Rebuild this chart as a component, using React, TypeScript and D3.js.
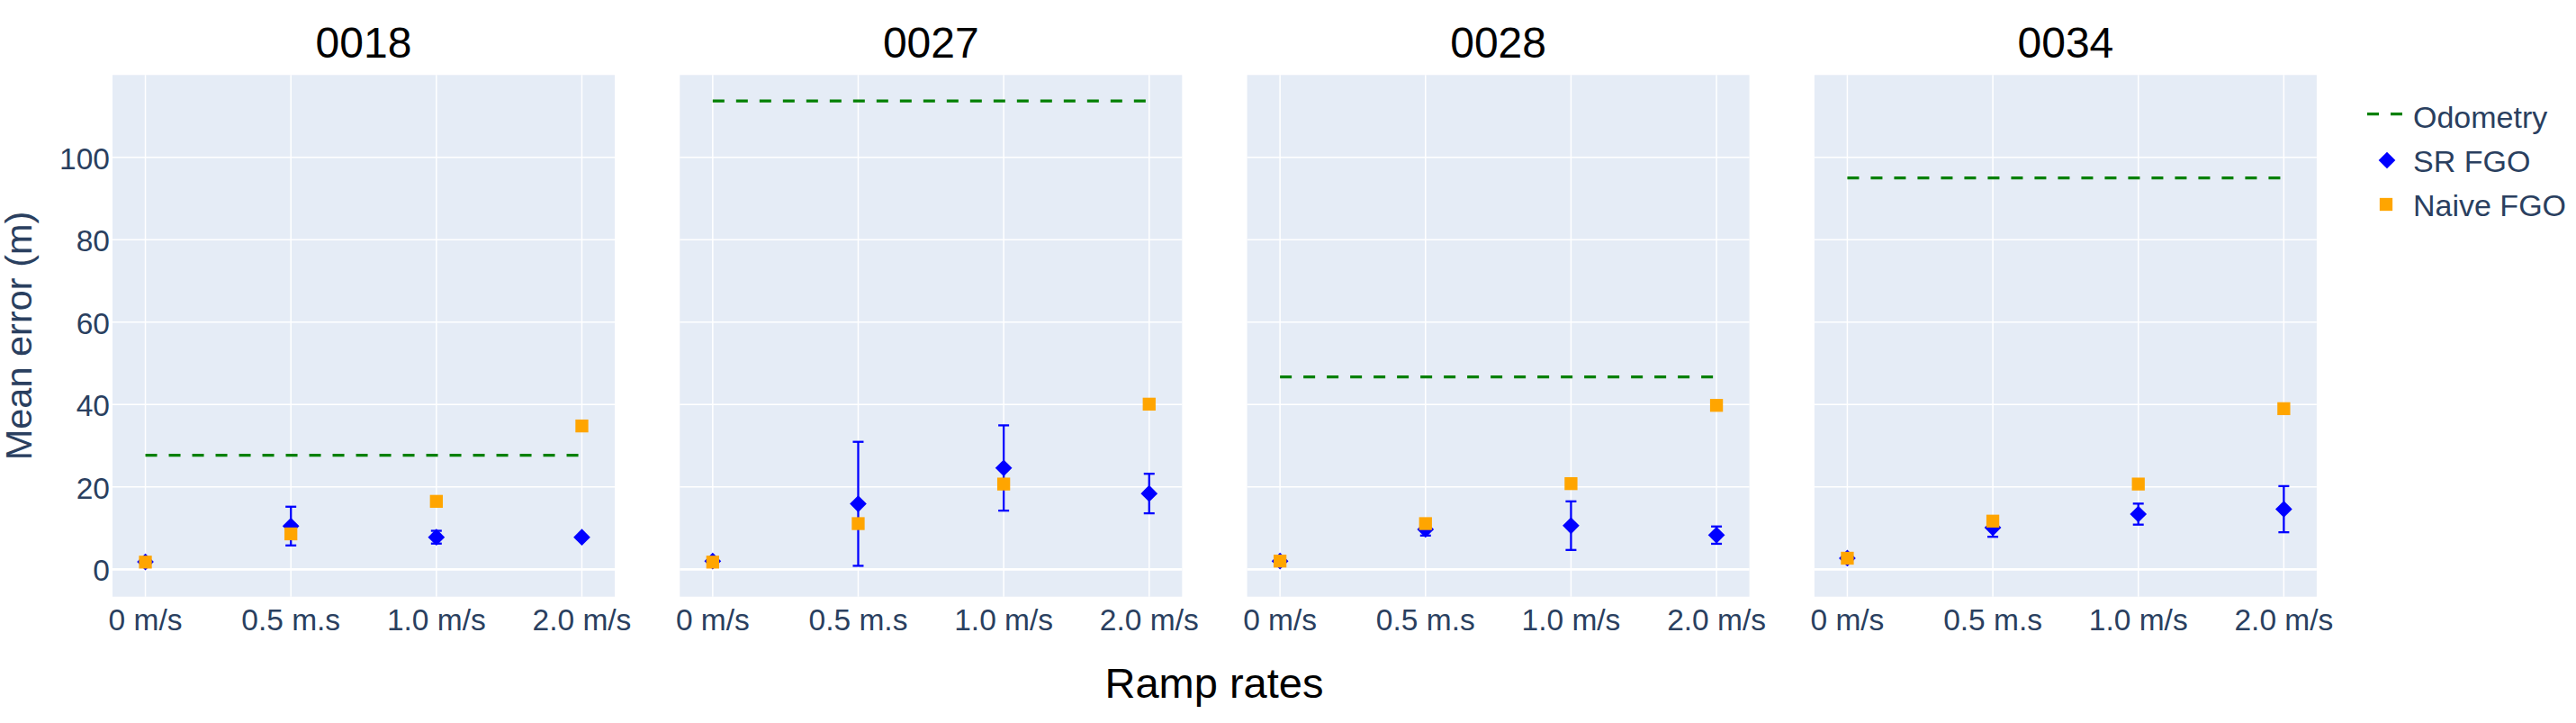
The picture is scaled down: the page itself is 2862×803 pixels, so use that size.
import { useEffect, useRef } from 'react'
import * as d3 from 'd3'

// ramp rate categories on the x axis
const categories = ['0 m/s', '0.5 m.s', '1.0 m/s', '2.0 m/s']
// one subplot per sequence
const sequences = ['0018', '0027', '0028', '0034']
const yTicks = [0, 20, 40, 60, 80, 100]

// odometry mean error, flat line per sequence
const odometry = [27.7, 113.7, 46.7, 95.0]

// SR FGO mean error and std (error bars)
const srFgo = [
    [1.8, 10.5, 7.8, 7.8],
    [2.0, 15.9, 24.6, 18.4],
    [2.0, 9.7, 10.6, 8.3],
    [2.7, 10.1, 13.4, 14.6]
]
const srFgoErr = [
    [0.3, 4.7, 1.55, 0.3],
    [0.3, 15.05, 10.35, 4.8],
    [0.3, 1.5, 5.9, 2.1],
    [0.3, 2.2, 2.55, 5.6]
]

// Naive FGO mean error
const naiveFgo = [
    [1.75, 8.6, 16.5, 34.8],
    [1.75, 11.1, 20.7, 40.1],
    [2.0, 11.1, 20.8, 39.8],
    [2.7, 11.7, 20.7, 39.0]
]

const legendItems = ['Odometry', 'SR FGO', 'Naive FGO']

const WIDTH = 2862
const HEIGHT = 803
const FONT = '"Liberation Sans", Arial, sans-serif'
const TEXT = '#2a3f5f'
const BG = '#E5ECF6'
const GREEN = 'green'
const BLUE = '#0000ff'
const ORANGE = '#FFA500'

export default function App() {
    const svgRef = useRef<SVGSVGElement>(null)

    useEffect(() => {
        if (!svgRef.current) return
        const svg = d3.select(svgRef.current)
        svg.selectAll('*').remove()
        svg.attr('width', WIDTH).attr('height', HEIGHT)

        const top = 83.3
        const bottom = 662.7
        const panelW = 558
        const panelLeft = (i: number) => 125 + i * 630.3

        const y = d3.scaleLinear().domain([-6.64, 120]).range([bottom, top])

        const diamond = (r: number) => `M${r},0L0,${r}L${-r},0L0,${-r}Z`
        const sq = 14.3

        sequences.forEach((seq, p) => {
            const left = panelLeft(p)
            const x = d3.scalePoint<string>()
                .domain(categories)
                .range([left, left + panelW])
                .padding(0.226)

            const g = svg.append('g')

            // background
            g.append('rect')
                .attr('x', left).attr('y', top)
                .attr('width', panelW).attr('height', bottom - top)
                .attr('fill', BG)

            // grid
            g.selectAll('.hgrid')
                .data(yTicks)
                .enter()
                .append('line')
                .attr('x1', left).attr('x2', left + panelW)
                .attr('y1', d => y(d)).attr('y2', d => y(d))
                .attr('stroke', 'white')
                .attr('stroke-width', d => d === 0 ? 2.7 : 1.5)

            g.selectAll('.vgrid')
                .data(categories)
                .enter()
                .append('line')
                .attr('x1', d => x(d)!).attr('x2', d => x(d)!)
                .attr('y1', top).attr('y2', bottom)
                .attr('stroke', 'white')
                .attr('stroke-width', 1.5)

            // x tick labels
            g.selectAll('.xlab')
                .data(categories)
                .enter()
                .append('text')
                .attr('x', d => x(d)!)
                .attr('y', 700)
                .attr('text-anchor', 'middle')
                .style('font-family', FONT)
                .style('font-size', '33.5px')
                .style('fill', TEXT)
                .text(d => d)

            // y tick labels only on first panel
            if (p === 0) {
                g.selectAll('.ylab')
                    .data(yTicks)
                    .enter()
                    .append('text')
                    .attr('x', left - 3)
                    .attr('y', d => y(d))
                    .attr('dy', '0.38em')
                    .attr('text-anchor', 'end')
                    .style('font-family', FONT)
                    .style('font-size', '33.5px')
                    .style('fill', TEXT)
                    .text(d => d)
            }

            // subplot title
            g.append('text')
                .attr('x', left + panelW / 2)
                .attr('y', 64)
                .attr('text-anchor', 'middle')
                .style('font-family', FONT)
                .style('font-size', '48px')
                .style('fill', '#000')
                .text(seq)

            // odometry dashed line
            g.append('line')
                .attr('x1', x(categories[0])!)
                .attr('x2', x(categories[categories.length - 1])!)
                .attr('y1', y(odometry[p])).attr('y2', y(odometry[p]))
                .attr('stroke', GREEN)
                .attr('stroke-width', 3.3)
                .attr('stroke-dasharray', '13,13')

            // SR FGO error bars
            const sr = categories.map((c, i) => ({ c, v: srFgo[p][i], e: srFgoErr[p][i] }))
            const eb = g.selectAll('.err')
                .data(sr)
                .enter()
                .append('g')
            eb.append('line')
                .attr('x1', d => x(d.c)!).attr('x2', d => x(d.c)!)
                .attr('y1', d => y(d.v - d.e)).attr('y2', d => y(d.v + d.e))
                .attr('stroke', BLUE).attr('stroke-width', 2.3)
            eb.append('line')
                .attr('x1', d => x(d.c)! - 6).attr('x2', d => x(d.c)! + 6)
                .attr('y1', d => y(d.v + d.e)).attr('y2', d => y(d.v + d.e))
                .attr('stroke', BLUE).attr('stroke-width', 2.3)
            eb.append('line')
                .attr('x1', d => x(d.c)! - 6).attr('x2', d => x(d.c)! + 6)
                .attr('y1', d => y(d.v - d.e)).attr('y2', d => y(d.v - d.e))
                .attr('stroke', BLUE).attr('stroke-width', 2.3)

            // SR FGO diamonds
            g.selectAll('.sr')
                .data(sr)
                .enter()
                .append('path')
                .attr('d', diamond(9.35))
                .attr('transform', d => `translate(${x(d.c)},${y(d.v)})`)
                .attr('fill', BLUE)

            // Naive FGO squares
            g.selectAll('.naive')
                .data(categories.map((c, i) => ({ c, v: naiveFgo[p][i] })))
                .enter()
                .append('rect')
                .attr('x', d => x(d.c)! - sq / 2)
                .attr('y', d => y(d.v) - sq / 2)
                .attr('width', sq).attr('height', sq)
                .attr('fill', ORANGE)
        })

        // axis titles
        svg.append('text')
            .attr('x', 1349)
            .attr('y', 775)
            .attr('text-anchor', 'middle')
            .style('font-family', FONT)
            .style('font-size', '47px')
            .style('fill', '#000')
            .text('Ramp rates')

        svg.append('text')
            .attr('transform', `translate(35, ${(top + bottom) / 2}) rotate(-90)`)
            .attr('text-anchor', 'middle')
            .style('font-family', FONT)
            .style('font-size', '41.5px')
            .style('fill', TEXT)
            .text('Mean error (m)')

        // legend
        const legend = svg.append('g').attr('transform', 'translate(2630, 0)')
        const rows = [142, 191, 240]
        legend.append('line')
            .attr('x1', 0).attr('x2', 39)
            .attr('y1', rows[0] - 15.3).attr('y2', rows[0] - 15.3)
            .attr('stroke', GREEN).attr('stroke-width', 3.3)
            .attr('stroke-dasharray', '13,13')
        legend.append('path')
            .attr('d', diamond(9.35))
            .attr('transform', `translate(22, ${rows[1] - 13})`)
            .attr('fill', BLUE)
        legend.append('rect')
            .attr('x', 21 - sq / 2).attr('y', rows[2] - 13 - sq / 2)
            .attr('width', sq).attr('height', sq)
            .attr('fill', ORANGE)
        legend.selectAll('.legend-text')
            .data(legendItems)
            .enter()
            .append('text')
            .attr('x', 51)
            .attr('y', (d, i) => rows[i])
            .style('font-family', FONT)
            .style('font-size', '34px')
            .style('fill', TEXT)
            .text(d => d)
    }, [])

    return (
        <svg
            ref={svgRef}
            style={{ position: 'absolute', left: 0, top: 0, background: 'white', display: 'block' }}
        ></svg>
    )
}
